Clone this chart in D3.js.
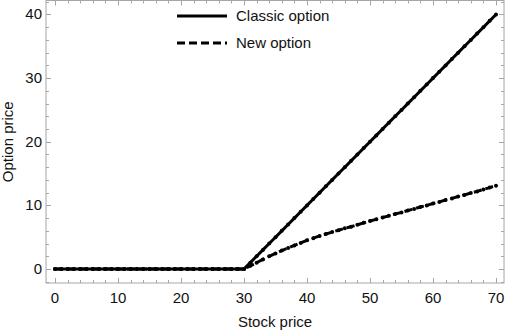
<!DOCTYPE html>
<html>
<head>
<meta charset="utf-8">
<script src="https://cdn.jsdelivr.net/npm/d3@7"></script>
<style>
	body { margin: 0; background: #fff; }
	svg { display: block; font-family: "Liberation Sans", Arial, sans-serif; }
</style>
</head>
<body>
<svg id="chart" width="505" height="336"></svg>
<script>
// stock prices (x) and option prices
const stockPrices = d3.range(0, 71);
const classicOption = [
	0, 0, 0, 0, 0, 0, 0, 0, 0, 0,
	0, 0, 0, 0, 0, 0, 0, 0, 0, 0,
	0, 0, 0, 0, 0, 0, 0, 0, 0, 0,
	0, 1, 2, 3, 4, 5, 6, 7, 8, 9,
	10, 11, 12, 13, 14, 15, 16, 17, 18, 19,
	20, 21, 22, 23, 24, 25, 26, 27, 28, 29,
	30, 31, 32, 33, 34, 35, 36, 37, 38, 39,
	40
];
const newOption = [
	0, 0, 0, 0, 0, 0, 0, 0, 0, 0,
	0, 0, 0, 0, 0, 0, 0, 0, 0, 0,
	0, 0, 0, 0, 0, 0, 0, 0, 0, 0,
	0, 0.5, 1.0, 1.5, 2.0, 2.45, 2.9, 3.3, 3.7, 4.1,
	4.5, 4.85, 5.2, 5.5, 5.8, 6.1, 6.4, 6.65, 6.95, 7.25,
	7.55, 7.8, 8.1, 8.35, 8.65, 8.9, 9.2, 9.45, 9.75, 10.0,
	10.3, 10.55, 10.85, 11.1, 11.4, 11.65, 11.95, 12.2, 12.5, 12.8,
	13.1
];
const xTicks = [0, 10, 20, 30, 40, 50, 60, 70];
const yTicks = [0, 10, 20, 30, 40];
const seriesNames = ["Classic option", "New option"];

const svg = d3.select("#chart");
const frameLeft = 46, frameRight = 504, frameTop = 0.5, frameBottom = 283;
const fontSize = 15;

const xScale = d3.scaleLinear().domain([-1.43, 71.27]).range([frameLeft, frameRight]);
const yScale = d3.scaleLinear().domain([-2.2, 42.2]).range([frameBottom, frameTop]);

const frameColor = "#a6a6a6";

// frame ticks (inside), minor every 2
const xMinor = d3.range(0, 71, 2).filter((d) => d % 10 !== 0);
const yMinor = d3.range(-2, 43, 2).filter((d) => d % 10 !== 0);

function tickMarks(axis, values, size) {
	const g = svg.append("g").attr("stroke", frameColor).attr("stroke-width", 1);
	values.forEach((v) => {
		if (axis === "x") {
			const x = Math.round(xScale(v)) + 0.5;
			g.append("line").attr("x1", x).attr("x2", x).attr("y1", frameBottom).attr("y2", frameBottom - size);
			g.append("line").attr("x1", x).attr("x2", x).attr("y1", frameTop).attr("y2", frameTop + size);
		} else {
			const y = Math.round(yScale(v)) + 0.5;
			g.append("line").attr("x1", frameLeft).attr("x2", frameLeft + size).attr("y1", y).attr("y2", y);
			g.append("line").attr("x1", frameRight).attr("x2", frameRight - size).attr("y1", y).attr("y2", y);
		}
	});
}
tickMarks("x", xTicks, 5);
tickMarks("x", xMinor, 3);
tickMarks("y", yTicks, 5);
tickMarks("y", yMinor, 3);

svg.append("rect")
	.attr("x", frameLeft).attr("y", frameTop)
	.attr("width", frameRight - frameLeft).attr("height", frameBottom - frameTop)
	.attr("fill", "none").attr("stroke", frameColor).attr("stroke-width", 1);

// tick labels
svg.append("g").selectAll("text").data(xTicks).enter().append("text")
	.attr("x", (d) => xScale(d))
	.attr("y", frameBottom + 20)
	.attr("text-anchor", "middle")
	.attr("font-size", fontSize)
	.attr("fill", "#111")
	.text((d) => d);

svg.append("g").selectAll("text").data(yTicks).enter().append("text")
	.attr("x", frameLeft - 4)
	.attr("y", (d) => yScale(d) + 5)
	.attr("text-anchor", "end")
	.attr("font-size", fontSize)
	.attr("fill", "#111")
	.text((d) => d);

// axis titles
svg.append("text")
	.attr("x", (frameLeft + frameRight) / 2)
	.attr("y", 327)
	.attr("text-anchor", "middle")
	.attr("font-size", fontSize)
	.attr("fill", "#111")
	.text("Stock price");

svg.append("text")
	.attr("transform", "translate(13," + ((frameTop + frameBottom) / 2) + ") rotate(-90)")
	.attr("text-anchor", "middle")
	.attr("font-size", fontSize)
	.attr("fill", "#111")
	.text("Option price");

// lines
const line = d3.line()
	.x((d) => xScale(d[0]))
	.y((d) => yScale(d[1]));

const classicData = stockPrices.map((s, i) => [s, classicOption[i]]);
const newData = stockPrices.map((s, i) => [s, newOption[i]]);

svg.append("path")
	.datum(classicData)
	.attr("d", line)
	.attr("fill", "none")
	.attr("stroke", "#000")
	.attr("stroke-width", 3);

svg.append("path")
	.datum(newData)
	.attr("d", line)
	.attr("fill", "none")
	.attr("stroke", "#000")
	.attr("stroke-width", 3)
	.attr("stroke-dasharray", "8,4");

[classicData, newData].forEach((data) => {
	svg.append("g").selectAll("circle").data(data).enter().append("circle")
		.attr("cx", (d) => xScale(d[0]))
		.attr("cy", (d) => yScale(d[1]))
		.attr("r", 2)
		.attr("fill", "#000");
});

// legend
const legend = svg.append("g");
seriesNames.forEach((name, i) => {
	const y = 16 + i * 27;
	legend.append("line")
		.attr("x1", 177).attr("x2", 227)
		.attr("y1", y).attr("y2", y)
		.attr("stroke", "#000")
		.attr("stroke-width", 3)
		.attr("stroke-dasharray", i === 1 ? "8,4" : null);
	legend.append("text")
		.attr("x", 236)
		.attr("y", y + 5)
		.attr("font-size", fontSize)
		.attr("fill", "#111")
		.text(name);
});
</script>
</body>
</html>
